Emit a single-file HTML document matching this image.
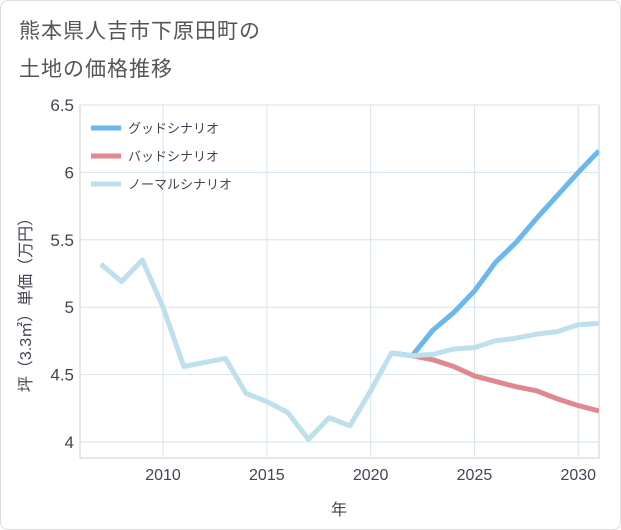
<!DOCTYPE html>
<html><head><meta charset="utf-8"><style>
body{margin:0;background:#fff;font-family:"Liberation Sans","Noto Sans CJK JP",sans-serif}
#wrap{position:relative;width:621px;height:530px;box-sizing:border-box;border:1px solid #ddd;border-radius:8px;overflow:hidden}
.t{position:absolute;left:18px;font-size:21px;color:#555;letter-spacing:1px}
</style></head><body>
<div id="wrap">
<div class="t" style="top:14px">熊本県人吉市下原田町の</div>
<div class="t" style="top:52px">土地の価格推移</div>
<svg id="c" width="621" height="530" style="position:absolute;left:0;top:0"></svg>
</div>
<script>
const years=[2007,2008,2009,2010,2011,2012,2013,2014,2015,2016,2017,2018,2019,2020,2021,2022,2023,2024,2025,2026,2027,2028,2029,2030,2031];
const normal=[5.32,5.19,5.35,5.0,4.56,4.59,4.62,4.36,4.30,4.22,4.02,4.18,4.12,4.38,4.66,4.64,4.65,4.69,4.70,4.75,4.77,4.80,4.82,4.87,4.88];
const futureYears=[2021,2022,2023,2024,2025,2026,2027,2028,2029,2030,2031];
const good=[4.66,4.64,4.83,4.96,5.12,5.33,5.48,5.66,5.83,6.00,6.16];
const bad=[4.66,4.64,4.61,4.56,4.49,4.45,4.41,4.38,4.32,4.27,4.23];
const xTicks=[2010,2015,2020,2025,2030];
const yTicks=[4,4.5,5,5.5,6,6.5];
const L=79,R=598,T=104,B=457;
const x=v=>L+(v-2006)/(2031-2006)*(R-L);
const y=v=>441-(v-4)/2.5*337;
const svg=document.getElementById('c');const NS='http://www.w3.org/2000/svg';
function mk(t,a,p){const e=document.createElementNS(NS,t);for(const k in a)e.setAttribute(k,a[k]);(p||svg).appendChild(e);return e;}
const frame=mk('rect',{x:L,y:T,width:R-L,height:B-T,fill:'none',stroke:'#ccc'});


xTicks.forEach(v=>{const g=mk('line',{x1:x(v),x2:x(v),y1:T,y2:B,stroke:'#d5e3ee'});


const t=mk('text',{x:x(v),y:479,'text-anchor':'middle','font-size':16,fill:'#445'});t.textContent=v;

});
yTicks.forEach(v=>{const g=mk('line',{x1:L,x2:R,y1:y(v),y2:y(v),stroke:'#d5e3ee'});


const t=mk('text',{x:73,y:y(v)+6,'text-anchor':'end','font-size':17,fill:'#445'});t.textContent=v;

});
const xt=mk('text',{x:338,y:514,'text-anchor':'middle','font-size':16,fill:'#445'});xt.textContent='年';


const yt=mk('text',{x:0,y:0,transform:'translate(30,300) rotate(-90)','text-anchor':'middle','font-size':16,fill:'#445'});yt.textContent='坪（3.3㎡）単価（万円）';


mk('clipPath',{id:'cp'});mk('rect',{x:L,y:T,width:R-L,height:B-T},document.getElementById('cp'));
function line(xs,vs,col,name){const p=mk('polyline',{points:xs.map((v,i)=>x(v)+','+y(vs[i])).join(' '),fill:'none',stroke:col,'stroke-width':5,'stroke-linejoin':'round','clip-path':'url(#cp)'});

}
line(futureYears,bad,'#e0888f','bad-scenario-line');
line(futureYears,good,'#6bb8ec','good-scenario-line');
line(years,normal,'#bde0ec','normal-scenario-line');
const leg=[['グッドシナリオ','#6bb8ec'],['バッドシナリオ','#e0888f'],['ノーマルシナリオ','#bde0ec']];
leg.forEach((d,i)=>{const yy=127+i*28;const l=mk('line',{x1:90,x2:120,y1:yy,y2:yy,stroke:d[1],'stroke-width':5});


const t=mk('text',{x:127,y:yy+5,'font-size':13,fill:'#445'});t.textContent=d[0];

});
</script>
</body></html>
